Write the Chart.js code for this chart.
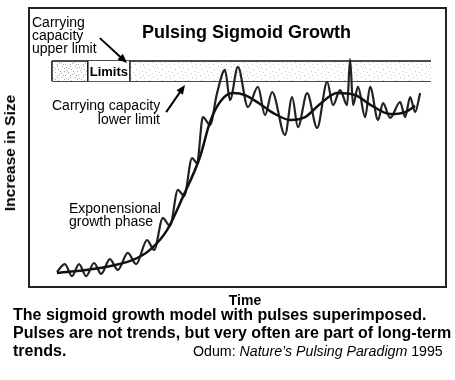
<!DOCTYPE html>
<html>
<head>
<meta charset="utf-8">
<script src="https://cdn.jsdelivr.net/npm/chart.js@4.4.1/dist/chart.umd.min.js"></script>
<style>
	body { margin: 0; background: #fff; font-family: "Liberation Sans", Arial, sans-serif; }
	.wrap { position: relative; width: 455px; height: 380px; overflow: hidden; }
	.chart-box { position: absolute; left: 0; top: 0; width: 455px; height: 310px; }
	.ytitle { position: absolute; left: 10px; top: 153px; font-weight: bold; font-size: 15.5px; line-height: 16px;
		white-space: nowrap; transform: translate(-50%, -50%) rotate(-90deg); }
	.xtitle { position: absolute; left: 245px; top: 292px; font-weight: bold; font-size: 14px; line-height: 16px;
		transform: translateX(-50%); }
	.caption { position: absolute; left: 13px; top: 306px; font-weight: bold; font-size: 16px; line-height: 18px;
		white-space: nowrap; }
	.caption .ref { position: absolute; left: 180px; font-weight: normal; font-size: 14.2px; }
</style>
</head>
<body>
<div class="wrap">
	<div class="chart-box"><canvas id="pulse-chart"></canvas></div>
	<div class="ytitle">Increase in Size</div>
	<div class="xtitle">Time</div>
	<div class="caption">
		<div>The sigmoid growth model with pulses superimposed.</div>
		<div>Pulses are not trends, but very often are part of long-term</div>
		<div>trends.<span class="ref">Odum: <i>Nature’s Pulsing Paradigm</i> 1995</span></div>
	</div>
</div>
<script>
// pulsing line (time 0-100, size 0-100)
const pulseTime = [6.7, 8.6, 10.3, 12.0, 13.7, 15.6, 17.3, 19.4, 21.3, 23.7, 25.7, 28.3, 30.0, 32.1, 33.8,
	35.7, 37.2, 39.1, 40.3, 41.7, 43.4, 45.1, 47.0, 48.2, 50.1, 52.5, 54.9, 56.6, 58.3, 61.4, 63.1, 64.5,
	66.7, 69.1, 71.5, 72.9, 74.6, 76.3, 77.0, 77.7, 78.9, 80.6, 81.8, 83.7, 84.9, 86.6, 89.0, 90.2, 91.4,
	92.6, 93.8];
const pulseSize = [5.4, 8.2, 3.9, 8.2, 3.9, 8.6, 4.7, 10.0, 6.1, 12.2, 8.2, 16.8, 13.3, 24.7, 21.9,
	34.8, 32.6, 46.2, 44.4, 60.9, 58.1, 69.5, 77.8, 67.0, 78.9, 64.5, 71.7, 61.6, 69.9, 54.5, 68.1, 57.3,
	69.5, 57.0, 73.5, 65.2, 70.6, 65.2, 81.7, 65.2, 71.7, 60.9, 71.7, 59.9, 65.9, 60.6, 66.3, 60.9, 68.1,
	62.7, 69.5];

// smooth sigmoid trend
const trendTime = [6.7, 17.0, 24.9, 29.0, 33.1, 36.9, 41.0, 43.4, 45.8, 48.9, 51.8, 55.4, 59.0, 62.6,
	66.2, 69.8, 73.9, 78.2, 82.3, 86.6, 90.2, 92.6];
const trendSize = [5.0, 6.8, 9.7, 13.3, 20.4, 32.3, 46.6, 59.1, 66.3, 69.5, 68.8, 65.6, 62.0, 59.9,
	60.9, 65.6, 69.5, 68.8, 64.9, 62.0, 62.7, 64.9];

// carrying capacity band
const bandTime = [5.5, 96.4];
const upperLimit = [81, 81];
const lowerLimit = [73.8, 73.8];
const limitsBox = [14.1, 24.2];

const toPoints = (xs, ys) => xs.map((x, i) => ({ x: x, y: ys[i] }));

// little stipple texture for the band
const stipple = (dots, color) => {
	const c = document.createElement("canvas");
	c.width = 13;
	c.height = 11;
	const g = c.getContext("2d");
	g.fillStyle = "#fff";
	g.fillRect(0, 0, 13, 11);
	g.fillStyle = color;
	dots.forEach(([dx, dy]) => g.fillRect(dx, dy, 1, 1));
	return g.createPattern(c, "repeat");
};
const lightDots = [[1, 1], [6, 3], [10, 0], [3, 6], [9, 7], [12, 5], [5, 9], [0, 9]];
const denseDots = lightDots.concat([[3, 2], [8, 5], [11, 9], [2, 4], [7, 8], [5, 0], [12, 2]]);

const annotations = {
	id: "annotations",
	afterDatasetsDraw(chart) {
		const { ctx, chartArea: a, scales: { x, y } } = chart;
		const top = y.getPixelForValue(upperLimit[0]);
		const bottom = y.getPixelForValue(lowerLimit[0]);
		const left = x.getPixelForValue(bandTime[0]);
		const b1 = x.getPixelForValue(limitsBox[0]);
		const b2 = x.getPixelForValue(limitsBox[1]);
		ctx.save();

		// denser stipple on the left end, white "Limits" box
		ctx.fillStyle = stipple(denseDots, "#aaa");
		ctx.fillRect(left, top + 1, b1 - left, bottom - top - 2);
		ctx.fillStyle = "#fff";
		ctx.fillRect(b1, top, b2 - b1, bottom - top);
		ctx.strokeStyle = "#111";
		ctx.lineWidth = 1.5;
		ctx.beginPath();
		[left, b1, b2].forEach((px) => {
			ctx.moveTo(px, top);
			ctx.lineTo(px, bottom);
		});
		ctx.stroke();

		// frame
		ctx.strokeStyle = "#222";
		ctx.lineWidth = 2;
		ctx.strokeRect(a.left, a.top, a.width, a.height);

		// texts
		ctx.fillStyle = "#000";
		ctx.textBaseline = "alphabetic";
		ctx.font = "bold 13px 'Liberation Sans', Arial";
		ctx.textAlign = "center";
		ctx.fillText("Limits", (b1 + b2) / 2, bottom - 5);

		ctx.font = "bold 18px 'Liberation Sans', Arial";
		ctx.textAlign = "left";
		ctx.fillText("Pulsing Sigmoid Growth", 142, 38);

		ctx.font = "14px 'Liberation Sans', Arial";
		ctx.fillText("Carrying", 32, 27);
		ctx.fillText("capacity", 32, 40);
		ctx.fillText("upper limit", 32, 53);
		ctx.fillText("Carrying capacity", 52, 110);
		ctx.textAlign = "right";
		ctx.fillText("lower limit", 160, 124);
		ctx.textAlign = "left";
		ctx.fillText("Exponensional", 69, 213);
		ctx.fillText("growth phase", 69, 226);

		// arrows
		const arrow = (x1, y1, x2, y2) => {
			const p1 = [x.getPixelForValue(x1), y.getPixelForValue(y1)];
			const p2 = [x.getPixelForValue(x2), y.getPixelForValue(y2)];
			const ang = Math.atan2(p2[1] - p1[1], p2[0] - p1[0]);
			ctx.strokeStyle = "#000";
			ctx.lineWidth = 2;
			ctx.beginPath();
			ctx.moveTo(p1[0], p1[1]);
			ctx.lineTo(p2[0] - 6 * Math.cos(ang), p2[1] - 6 * Math.sin(ang));
			ctx.stroke();
			ctx.fillStyle = "#000";
			ctx.beginPath();
			ctx.moveTo(p2[0], p2[1]);
			ctx.lineTo(p2[0] - 10 * Math.cos(ang - 0.4), p2[1] - 10 * Math.sin(ang - 0.4));
			ctx.lineTo(p2[0] - 10 * Math.cos(ang + 0.4), p2[1] - 10 * Math.sin(ang + 0.4));
			ctx.closePath();
			ctx.fill();
		};
		arrow(17.0, 89.2, 23.5, 80.3);
		arrow(32.9, 62.7, 37.4, 72.4);

		ctx.restore();
	},
};

new Chart(document.getElementById("pulse-chart"), {
	type: "scatter",
	data: {
		datasets: [
			{
				label: "Trend",
				data: toPoints(trendTime, trendSize),
				showLine: true,
				borderColor: "#111",
				borderWidth: 2.5,
				pointRadius: 0,
				tension: 0.4,
				cubicInterpolationMode: "monotone",
			},
			{
				label: "Pulses",
				data: toPoints(pulseTime, pulseSize),
				showLine: true,
				borderColor: "#222",
				borderWidth: 2.2,
				pointRadius: 0,
				tension: 0.4,
				cubicInterpolationMode: "monotone",
			},
			{
				label: "Upper limit",
				data: toPoints(bandTime, upperLimit),
				showLine: true,
				borderColor: "#111",
				borderWidth: 1.5,
				pointRadius: 0,
				fill: "+1",
				backgroundColor: stipple(lightDots, "#c4c4c4"),
			},
			{
				label: "Lower limit",
				data: toPoints(bandTime, lowerLimit),
				showLine: true,
				borderColor: "#111",
				borderWidth: 1.5,
				pointRadius: 0,
			},
		],
	},
	options: {
		responsive: true,
		maintainAspectRatio: false,
		animation: false,
		layout: { padding: { left: 29, top: 8, right: 9, bottom: 23 } },
		plugins: { legend: { display: false }, tooltip: { enabled: false } },
		scales: {
			x: { type: "linear", min: 0, max: 100, display: false },
			y: { type: "linear", min: 0, max: 100, display: false },
		},
	},
	plugins: [annotations],
});
</script>
</body>
</html>
